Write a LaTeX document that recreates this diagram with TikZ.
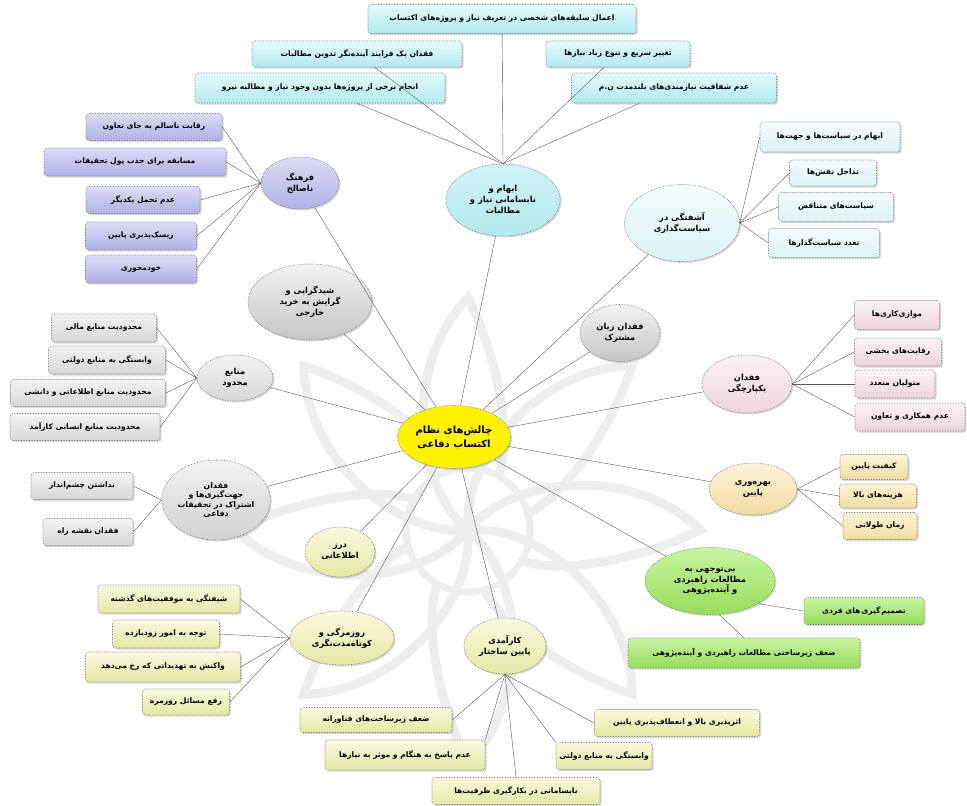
\documentclass[tikz,border=0pt]{standalone}
\usepackage{fontspec}
\newfontfamily\farsi[Script=Arabic, BoldFont={DejaVu Sans Bold}]{DejaVu Sans}
\TeXXeTstate=1
\usetikzlibrary{shapes.geometric,shadows}
\newcommand\ptxt[1]{{\farsi\bfseries\beginR #1\endR}}
\definecolor{cyT}{HTML}{E4FAFB}\definecolor{cyB}{HTML}{B2EAEF}
\definecolor{puT}{HTML}{DCDCF6}\definecolor{puB}{HTML}{B0B0E6}
\definecolor{lcT}{HTML}{F4FCFD}\definecolor{lcB}{HTML}{DAF2F4}
\definecolor{grT}{HTML}{F2F2F2}\definecolor{grB}{HTML}{C6C6C6}
\definecolor{piT}{HTML}{FCF2F6}\definecolor{piB}{HTML}{EFD3E0}
\definecolor{beT}{HTML}{FDF3DA}\definecolor{beB}{HTML}{F3DCA2}
\definecolor{gnT}{HTML}{C8F5A2}\definecolor{gnB}{HTML}{98DC5A}
\definecolor{ygT}{HTML}{F9FADF}\definecolor{ygB}{HTML}{E3E9A4}
\definecolor{wmk}{HTML}{EDEDED}
\tikzset{
  box/.style={rectangle, rounded corners=3pt, draw=black!55, densely dotted, line width=0.6pt,
    inner sep=0pt, font=\fontsize{7.6}{9}\selectfont,
    drop shadow={shadow xshift=1.5pt, shadow yshift=-1.5pt, opacity=0.3}},
  ell/.style={ellipse, draw=black!55, densely dotted, line width=0.6pt, inner sep=0pt,
    align=center, font=\fontsize{8.3}{10.8}\selectfont,
    drop shadow={shadow xshift=1.5pt, shadow yshift=-1.5pt, opacity=0.3}},
  sz/.style 2 args={minimum width=#1, minimum height=#2},
  cyan/.style={top color=cyT, bottom color=cyB},
  purp/.style={top color=puT, bottom color=puB},
  lcyan/.style={top color=lcT, bottom color=lcB},
  gry/.style={top color=grT, bottom color=grB},
  pnk/.style={top color=piT, bottom color=piB},
  bge/.style={top color=beT, bottom color=beB},
  grn/.style={top color=gnT, bottom color=gnB},
  ylg/.style={top color=ygT, bottom color=ygB},
  link/.style={draw=black!65, line width=0.4pt},
  wm/.style={draw=wmk, line width=9pt}
}
\begin{document}
\begin{tikzpicture}[x=1pt,y=-1pt]
\useasboundingbox (0,0) rectangle (967,806);
\fill[white] (0,0) rectangle (967,806);
% watermark
\foreach \a in {0,45,...,315}{
  \draw[wm, rotate around={\a:(468,530)}] (468,530) .. controls (520,470) and (640,470) .. (700,530)
     .. controls (640,560) and (560,575) .. (520,560);
}
\draw[wm, line width=7pt] (468,530) circle [radius=62];

% centre
\node[ell, sz={113}{63}, fill=yellow, font=\fontsize{10}{14}\selectfont] (c) at (454,437)
  {\ptxt{چالش^^^^200cهای نظام}\\\ptxt{اکتساب دفاعی}};

% top group
\node[ell, cyan, top color=cyB!60, bottom color=cyB, sz={114}{72}] (ab) at (503,200)
  {\ptxt{ابهام و}\\\ptxt{نابسامانی نیاز و}\\\ptxt{مطالبات}};
\node[box, cyan, sz={268}{29}] (t1) at (502,19) {\ptxt{اعمال سلیقه^^^^200cهای شخصی در تعریف نیاز و پروژه^^^^200cهای اکتساب}};
\node[box, cyan, sz={210}{26}] (t2) at (357,54) {\ptxt{فقدان یک فرایند آینده^^^^200cنگر تدوین مطالبات}};
\node[box, cyan, sz={250}{30}] (t3) at (320,88) {\ptxt{انجام برخی از پروژه^^^^200cها بدون وجود نیاز و مطالبه نیرو}};
\node[box, cyan, sz={144}{26}] (t4) at (618,54) {\ptxt{تغییر سریع و تنوع زیاد نیازها}};
\node[box, cyan, sz={205}{30}] (t5) at (674,88) {\ptxt{عدم شفافیت نیازمندی^^^^200cهای بلندمدت ن.م}};
\foreach \t in {t1,t2,t3,t4,t5} \draw[link] (ab.north) -- (\t);

% purple group
\node[ell, purp, sz={78}{52}] (p0) at (300,183) {\ptxt{فرهنگ}\\\ptxt{ناصالح}};
\node[box, purp, sz={136}{27}] (p1) at (154,127) {\ptxt{رقابت ناسالم به جای تعاون}};
\node[box, purp, sz={182}{28}] (p2) at (135,162) {\ptxt{مسابقه برای جذب پول تحقیقات}};
\node[box, purp, sz={114}{27}] (p3) at (143,200) {\ptxt{عدم تحمل یکدیگر}};
\node[box, purp, sz={111}{28}] (p4) at (141,236) {\ptxt{ریسک^^^^200cپذیری پایین}};
\node[box, purp, sz={111}{28}] (p5) at (141,269) {\ptxt{خودمحوری}};
\foreach \t in {p1,p2,p3,p4,p5} \draw[link] (p0.west) -- (\t.east);

% gray ellipses
\node[ell, gry, sz={124}{76}] (g1) at (310,302) {\ptxt{شیدگرایی و}\\\ptxt{گرایش به خرید}\\\ptxt{خارجی}};
\node[ell, gry, sz={80}{57}] (g2) at (620,333) {\ptxt{فقدان زبان}\\\ptxt{مشترک}};

% policy group
\node[ell, lcyan, sz={115}{77}] (a0) at (682,223) {\ptxt{آشفتگی در}\\\ptxt{سیاست^^^^200cگذاری}};
\node[box, lcyan, sz={140}{30}] (a1) at (830,137) {\ptxt{ابهام در سیاست^^^^200cها و جهت^^^^200cها}};
\node[box, lcyan, sz={87}{26}] (a2) at (833,173) {\ptxt{تداخل نقش^^^^200cها}};
\node[box, lcyan, sz={115}{29}] (a3) at (836,207) {\ptxt{سیاست^^^^200cهای متناقض}};
\node[box, lcyan, sz={111}{29}] (a4) at (824,243) {\ptxt{تعدد سیاست^^^^200cگذارها}};
\foreach \t in {a1,a2,a3,a4} \draw[link] (a0.east) -- (\t.west);

% resources group
\node[ell, gry, top color=grT, bottom color=grB!70, sz={76}{46}] (m0) at (235,378) {\ptxt{منابع}\\\ptxt{محدود}};
\node[box, gry, top color=grT, bottom color=grB!70, sz={105}{28}] (m1) at (104,328) {\ptxt{محدودیت منابع مالی}};
\node[box, gry, top color=grT, bottom color=grB!70, sz={117}{28}] (m2) at (107,360) {\ptxt{وابستگی به منابع دولتی}};
\node[box, gry, top color=grT, bottom color=grB!70, sz={155}{27}] (m3) at (88,393) {\ptxt{محدودیت منابع اطلاعاتی و دانشی}};
\node[box, gry, top color=grT, bottom color=grB!70, sz={150}{27}] (m4) at (85,427) {\ptxt{محدودیت منابع انسانی کارآمد}};
\foreach \t in {m1,m2,m3,m4} \draw[link] (m0.west) -- (\t.east);

% pink group
\node[ell, pnk, sz={90}{58}] (k0) at (747,384) {\ptxt{فقدان}\\\ptxt{یکپارچگی}};
\node[box, pnk, sz={85}{29}] (k1) at (897,315) {\ptxt{موازی^^^^200cکاری^^^^200cها}};
\node[box, pnk, sz={87}{28}] (k2) at (898,352) {\ptxt{رقابت^^^^200cهای بخشی}};
\node[box, pnk, sz={80}{28}] (k3) at (895,384) {\ptxt{متولیان متعدد}};
\node[box, pnk, sz={110}{28}] (k4) at (910,417) {\ptxt{عدم همکاری و تعاون}};
\foreach \t in {k1,k2,k3,k4} \draw[link] (k0.east) -- (\t.west);

% direction group
\node[ell, gry, top color=grT, bottom color=grB!80, sz={108}{80}, font=\fontsize{7.8}{9.6}\selectfont] (j0) at (216,500)
  {\ptxt{فقدان}\\\ptxt{جهت^^^^200cگیری^^^^200cها و}\\\ptxt{اشتراک در تحقیقات}\\\ptxt{دفاعی}};
\node[box, gry, top color=grT, bottom color=grB!70, sz={102}{27}] (j1) at (82,486) {\ptxt{نداشتن چشم^^^^200cانداز}};
\node[box, gry, top color=grT, bottom color=grB!70, sz={90}{27}] (j2) at (88,532) {\ptxt{فقدان نقشه راه}};
\foreach \t in {j1,j2} \draw[link] (j0.west) -- (\t.east);

% productivity group
\node[ell, bge, sz={88}{52}] (b0) at (753,489) {\ptxt{بهره^^^^200cوری}\\\ptxt{پایین}};
\node[box, bge, sz={68}{25}] (b1) at (874,467) {\ptxt{کیفیت پایین}};
\node[box, bge, sz={77}{24}] (b2) at (878,496) {\ptxt{هزینه^^^^200cهای بالا}};
\node[box, bge, sz={74}{27}] (b3) at (880,526) {\ptxt{زمان طولانی}};
\foreach \t in {b1,b2,b3} \draw[link] (b0.east) -- (\t.west);

% leak
\node[ell, ylg, sz={70}{50}] (d0) at (340,552) {\ptxt{درز}\\\ptxt{اطلاعاتی}};

% green group
\node[ell, grn, sz={130}{67}] (n0) at (710,581) {\ptxt{بی^^^^200cتوجهی به}\\\ptxt{مطالعات راهبردی}\\\ptxt{و آینده^^^^200cپژوهی}};
\node[box, grn, sz={120}{27}] (n1) at (864,611) {\ptxt{تصمیم^^^^200c\kern0.8ptگیری^^^^200c\kern0.8ptهای فردی}};
\node[box, grn, sz={232}{30}] (n2) at (744,653) {\ptxt{ضعف زیرساختی مطالعات راهبردی و آینده^^^^200cپژوهی}};
\draw[link] (n0.-25) -- (n1.west);
\draw[link] (n0.-75) -- (n2.north);

% routine group
\node[ell, ylg, sz={104}{54}] (r0) at (342,638) {\ptxt{روزمرگی و}\\\ptxt{کوتاه^^^^200cمدت^^^^200cنگری}};
\node[box, ylg, sz={142}{28}] (r1) at (169,599) {\ptxt{شیفتگی به موفقیت^^^^200cهای گذشته}};
\node[box, ylg, sz={107}{28}] (r2) at (166,634) {\ptxt{توجه به امور زودبازده}};
\node[box, ylg, sz={155}{30}] (r3) at (163,667) {\ptxt{واکنش به تهدیداتی که رخ می^^^^200cدهد}};
\node[box, ylg, sz={87}{26}] (r4) at (186,702) {\ptxt{رفع مسائل روزمره}};
\foreach \t in {r1,r2,r3,r4} \draw[link] (r0.west) -- (\t.east);

% structure group
\node[ell, ylg, sz={82}{56}] (q0) at (505,646) {\ptxt{کارآمدی}\\\ptxt{پایین ساختار}};
\node[box, ylg, sz={152}{25}] (q1) at (376,720) {\ptxt{ضعف زیرساخت^^^^200cهای فناورانه}};
\node[box, ylg, sz={160}{30}] (q2) at (405,755) {\ptxt{عدم پاسخ به هنگام و موثر به نیازها}};
\node[box, ylg, sz={168}{27}] (q3) at (516,791) {\ptxt{نابسامانی در بکارگیری ظرفیت^^^^200cها}};
\node[box, ylg, sz={96}{27}] (q4) at (604,756) {\ptxt{وابستگی به منابع دولتی}};
\node[box, ylg, sz={165}{27}] (q5) at (677,723) {\ptxt{اثرپذیری بالا و انعطاف^^^^200cپذیری پایین}};
\draw[link] (q0.south) -- (q1.east);
\draw[link] (q0.south) -- (q2.north east);
\draw[link] (q0.south) -- (q3.north);
\draw[link] (q0.south) -- (q4.north west);
\draw[link] (q0.south) -- (q5.west);

% main links
\foreach \t in {ab,p0,g1,g2,a0,m0,k0,j0,b0,d0,n0,r0,q0} \draw[link] (c) -- (\t);
\end{tikzpicture}
\end{document}
